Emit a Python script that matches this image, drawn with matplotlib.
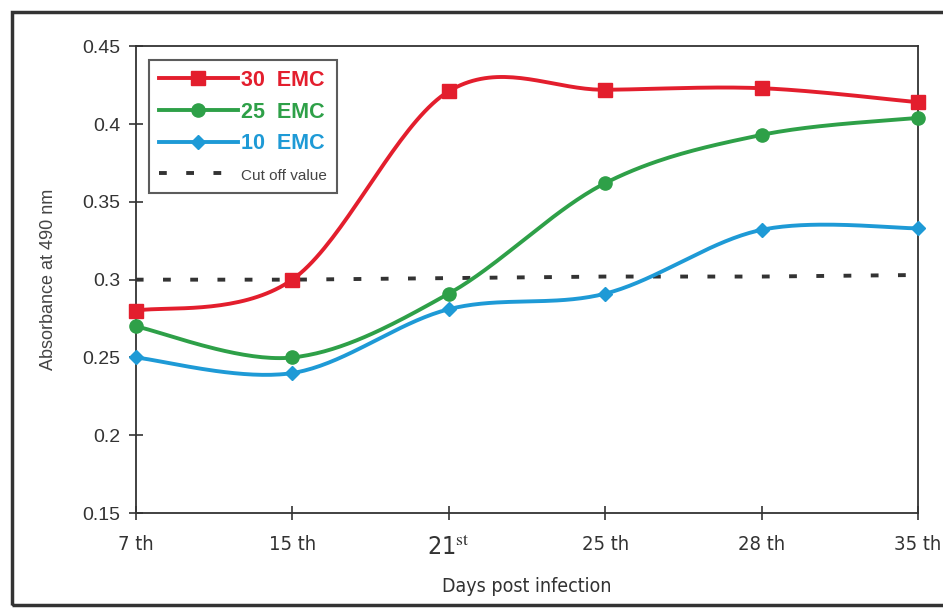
import numpy as np
import matplotlib
matplotlib.use("Agg")
import matplotlib.pyplot as plt
from matplotlib.patches import Rectangle

days = ["7 th", "15 th", "21$^{\\rm st}$", "25 th", "28 th", "35 th"]
emc30 = [0.280, 0.300, 0.421, 0.422, 0.423, 0.414]
emc25 = [0.270, 0.250, 0.291, 0.362, 0.393, 0.404]
emc10 = [0.250, 0.240, 0.281, 0.291, 0.332, 0.333]
cutoff = [0.300, 0.300, 0.301, 0.302, 0.302, 0.303]


def smooth(y, n=40):
    # Excel-style smoothed line: cubic Bezier through the points
    x = np.arange(len(y), dtype=float)
    y = np.asarray(y, dtype=float)
    xs, ys = [], []
    for i in range(len(y) - 1):
        p0 = (x[max(i - 1, 0)], y[max(i - 1, 0)])
        p1 = (x[i], y[i])
        p2 = (x[i + 1], y[i + 1])
        p3 = (x[min(i + 2, len(y) - 1)], y[min(i + 2, len(y) - 1)])
        c1 = (p1[0] + (p2[0] - p0[0]) / 6, p1[1] + (p2[1] - p0[1]) / 6)
        c2 = (p2[0] - (p3[0] - p1[0]) / 6, p2[1] - (p3[1] - p1[1]) / 6)
        t = np.linspace(0, 1, n)
        bx = (1 - t) ** 3 * p1[0] + 3 * (1 - t) ** 2 * t * c1[0] + 3 * (1 - t) * t ** 2 * c2[0] + t ** 3 * p2[0]
        by = (1 - t) ** 3 * p1[1] + 3 * (1 - t) ** 2 * t * c1[1] + 3 * (1 - t) * t ** 2 * c2[1] + t ** 3 * p2[1]
        xs.extend(bx)
        ys.extend(by)
    return np.array(xs), np.array(ys)


plt.rcParams["font.family"] = ["Liberation Sans", "DejaVu Sans"]
plt.rcParams["mathtext.fontset"] = "stix"

fig = plt.figure(figsize=(9.43, 6.16), dpi=100)
ax = fig.add_axes([0.144, 0.167, 0.8295, 0.758])

# outer frame
fig.patches.append(Rectangle((0.013, 0.018), 0.995, 0.962, transform=fig.transFigure,
                             fill=False, edgecolor="#333333", linewidth=2.5))

x = np.arange(len(days))
series = [
    (emc30, "#e31e2d", "s", 9.5, "30  EMC"),
    (emc25, "#2ea048", "o", 9.5, "25  EMC"),
    (emc10, "#1e9ad6", "D", 7.5, "10  EMC"),
]
handles = []
for vals, col, mk, ms, lab in series:
    sx, sy = smooth(vals)
    ax.plot(sx, sy, color=col, lw=2.8, zorder=3, clip_on=False)
    ax.plot(x, vals, linestyle="none", marker=mk, markersize=ms, color=col, zorder=4, clip_on=False)
    h, = ax.plot([], [], color=col, lw=2.8, marker=mk, markersize=ms, label=lab)
    handles.append(h)

ax.plot(x, cutoff, color="#333333", lw=2.8, linestyle=(0, (2, 5)), zorder=2)
h, = ax.plot([], [], color="#333333", lw=2.8, linestyle=(0, (2, 5)), label="Cut off value")
handles.append(h)

ax.set_xlim(0, len(days) - 1)
ax.set_ylim(0.15, 0.45)
ax.set_yticks([0.15, 0.2, 0.25, 0.3, 0.35, 0.4, 0.45])
ax.set_yticklabels(["0.15", "0.2", "0.25", "0.3", "0.35", "0.4", "0.45"])
ax.set_xticks(x)
ax.set_xticklabels(days)
ax.tick_params(axis="both", direction="inout", length=10, width=1.2, labelsize=14, colors="#333333")
ax.tick_params(axis="y", pad=6)
ax.tick_params(axis="x", pad=11)
for i, lab in enumerate(ax.get_xticklabels()):
    lab.set_fontstretch("condensed")
    lab.set_family(["DejaVu Sans", "Liberation Sans"])
    lab.set_fontsize(14.5)
    if i == 2:
        lab.set_fontsize(18)
for sp in ax.spines.values():
    sp.set_linewidth(1.3)
    sp.set_color("#333333")

ax.set_xlabel("Days post infection", fontsize=14, color="#333333", labelpad=13,
              fontstretch="condensed", family=["DejaVu Sans"])
ax.set_ylabel("Absorbance at 490 nm", fontsize=13, color="#444444", labelpad=18)

leg = ax.legend(handles=handles, loc="upper left", bbox_to_anchor=(0.003, 0.993),
                frameon=True, fancybox=False, edgecolor="#333333", handlelength=3.7,
                handletextpad=0.15, borderpad=0.45, labelspacing=0.5, fontsize=15.5)
leg.get_frame().set_linewidth(1.5)
for txt, col in zip(leg.get_texts(), ["#e31e2d", "#2ea048", "#1e9ad6", "#444444"]):
    txt.set_color(col)
    txt.set_fontweight("bold")
leg.get_texts()[3].set_fontweight("normal")
leg.get_texts()[3].set_fontsize(11)

fig.savefig("out.png", dpi=100)
